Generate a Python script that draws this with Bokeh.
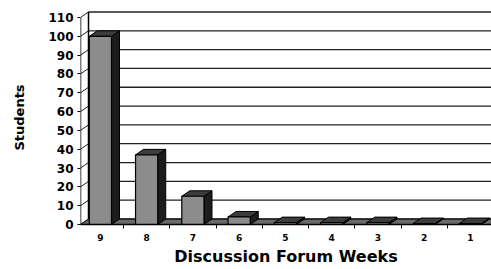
from bokeh.plotting import figure
from bokeh.models import Range1d, FixedTicker
from bokeh.embed import file_html
from bokeh.resources import INLINE

# ---- data ----
weeks = ["9", "8", "7", "6", "5", "4", "3", "2", "1"]
students = [100, 37, 15, 4, 1, 1, 1, 0.5, 0.5]
y_ticks = list(range(0, 111, 10))
y_max = 110
x_title = "Discussion Forum Weeks"
y_title = "Students"

# ---- geometry (pixels -> data units) ----
PX_X = 46.25          # px per category
PX_Y = 1.882          # px per student
dx = 8 / PX_X         # depth offset (x)
dy = 5.5 / PX_Y       # depth offset (y)
x0 = 0.07
x1 = x0 + 411 / PX_X
bar_w = 0.48

p = figure(width=491, height=269, output_backend="svg", toolbar_location=None,
           x_range=Range1d(x0, x1), y_range=Range1d(0, 214 / PX_Y),
           min_border_left=80, min_border_right=0, min_border_top=10, min_border_bottom=45)
p.outline_line_color = None
p.xgrid.visible = False
p.ygrid.visible = False
p.background_fill_color = "white"

# floor
p.patch([x0, x1, x1, x0 + dx], [0, 0, dy, dy], fill_color="#6a6a6a",
        line_color="black", line_width=1)

# back wall grid lines
gx0 = [x0 + dx] * len(y_ticks)
gx1 = [x1] * len(y_ticks)
gy = [v + dy for v in y_ticks]
p.segment(gx0, gy, gx1, gy, line_color="#222222", line_width=1.3)
# left wall diagonals
p.segment([x0] * len(y_ticks), y_ticks, gx0, gy, line_color="#222222", line_width=1)
# back wall left edge, front axis line
p.segment([x0 + dx, x0], [dy, 0], [x0 + dx, x0], [y_max + dy, y_max],
          line_color="black", line_width=1.5)

# bars (3D)
centers = [i + 0.5 for i in range(len(weeks))]
lefts = [c - bar_w / 2 for c in centers]
rights = [c + bar_w / 2 for c in centers]
side_xs = [[r, r + dx, r + dx, r] for r in rights]
side_ys = [[0, dy, v + dy, v] for v in students]
top_xs = [[l, r, r + dx, l + dx] for l, r in zip(lefts, rights)]
top_ys = [[v, v, v + dy, v + dy] for v in students]
p.patches(side_xs, side_ys, fill_color="#1c1c1c", line_color="black", line_width=1)
p.patches(top_xs, top_ys, fill_color="#3c3c3c", line_color="black", line_width=1)
p.quad(left=lefts, right=rights, bottom=0, top=students, fill_color="#8c8c8c",
       line_color="black", line_width=1.2)

# axes
ya = p.yaxis[0]
ya.ticker = FixedTicker(ticks=y_ticks, minor_ticks=[])
ya.axis_line_color = None
ya.major_tick_out = 3
ya.major_tick_in = 0
ya.major_tick_line_color = "black"
ya.major_label_standoff = 4
ya.major_label_text_font = "DejaVu Sans"
ya.major_label_text_font_style = "bold"
ya.major_label_text_font_size = "12px"
ya.major_label_text_color = "black"
ya.axis_label = y_title
ya.axis_label_text_font = "DejaVu Sans"
ya.axis_label_text_font_style = "bold"
ya.axis_label_text_font_size = "13px"
ya.axis_label_text_color = "black"
ya.axis_label_standoff = 18

xa = p.xaxis[0]
xa.ticker = FixedTicker(ticks=centers, minor_ticks=[float(i) for i in range(1, len(weeks))])
xa.major_label_overrides = {c: w for c, w in zip(centers, weeks)}
xa.axis_line_color = "black"
xa.axis_line_width = 1.5
xa.major_tick_out = 0
xa.major_tick_in = 0
xa.minor_tick_out = 4
xa.minor_tick_in = 0
xa.minor_tick_line_color = "black"
xa.major_label_standoff = 5
xa.major_label_text_font = "DejaVu Sans"
xa.major_label_text_font_style = "bold"
xa.major_label_text_font_size = "9px"
xa.major_label_text_color = "black"
xa.axis_label = x_title
xa.axis_label_text_font = "DejaVu Sans"
xa.axis_label_text_font_style = "bold"
xa.axis_label_text_font_size = "16px"
xa.axis_label_text_color = "black"
xa.axis_label_standoff = 3

open("out.html", "w").write(file_html(p, INLINE))
